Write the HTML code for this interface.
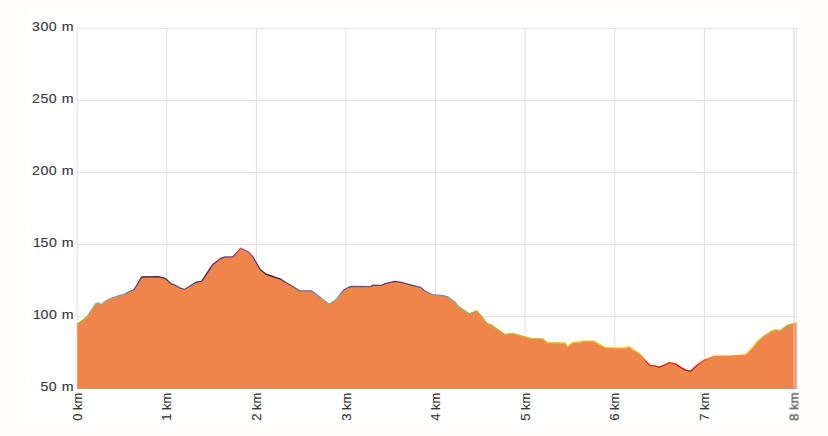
<!DOCTYPE html>
<html><head><meta charset="utf-8"><style>
html,body{margin:0;padding:0;width:828px;height:436px;overflow:hidden;background:#fefdfc;}
svg{display:block;filter:blur(0.6px);}
text{font-family:"Liberation Sans",sans-serif;font-size:13px;fill:#383838;stroke:#383838;stroke-width:0.15px;}
</style></head><body>
<svg width="828" height="436" viewBox="0 0 828 436">
<defs><linearGradient id="g" gradientUnits="userSpaceOnUse" x1="0" y1="28.3" x2="0" y2="388.6"><stop offset="0.6120" stop-color="#b05a9a"/><stop offset="0.6480" stop-color="#4a3a88"/><stop offset="0.6880" stop-color="#2e2850"/><stop offset="0.6960" stop-color="#363270"/><stop offset="0.7080" stop-color="#404888"/><stop offset="0.7240" stop-color="#4a68a0"/><stop offset="0.7360" stop-color="#6090b0"/><stop offset="0.7480" stop-color="#78a8a0"/><stop offset="0.7680" stop-color="#88b088"/><stop offset="0.7880" stop-color="#90b868"/><stop offset="0.8200" stop-color="#a0c050"/><stop offset="0.8600" stop-color="#b0c448"/><stop offset="0.8880" stop-color="#e4dc38"/><stop offset="0.9120" stop-color="#f08040"/><stop offset="0.9320" stop-color="#c83020"/><stop offset="0.9520" stop-color="#a01818"/></linearGradient></defs>
<rect x="26" y="10" width="774" height="414" fill="#ffffff"/>
<g stroke="#e2dfe0" stroke-width="1" fill="none"><line x1="77.2" y1="28.3" x2="797.0" y2="28.3"/><line x1="77.2" y1="100.4" x2="797.0" y2="100.4"/><line x1="77.2" y1="172.4" x2="797.0" y2="172.4"/><line x1="77.2" y1="244.5" x2="797.0" y2="244.5"/><line x1="77.2" y1="316.5" x2="797.0" y2="316.5"/><line x1="77.2" y1="388.6" x2="797.0" y2="388.6"/><line x1="77.2" y1="28.3" x2="77.2" y2="388.6"/><line x1="166.8" y1="28.3" x2="166.8" y2="388.6"/><line x1="256.4" y1="28.3" x2="256.4" y2="388.6"/><line x1="346.0" y1="28.3" x2="346.0" y2="388.6"/><line x1="435.6" y1="28.3" x2="435.6" y2="388.6"/><line x1="525.2" y1="28.3" x2="525.2" y2="388.6"/><line x1="614.8" y1="28.3" x2="614.8" y2="388.6"/><line x1="704.4" y1="28.3" x2="704.4" y2="388.6"/><line x1="794.0" y1="28.3" x2="794.0" y2="388.6"/></g>
<polygon points="77.2,389.0 77.2,324.0 83.2,319.9 87.8,315.7 92.3,308.8 96.0,303.3 98.8,302.9 101.0,304.7 104.3,302.0 110.7,298.3 115.3,296.9 120.0,295.3 124.0,294.6 127.3,292.6 134.2,289.4 141.6,277.0 158.5,276.7 165.0,278.3 171.4,283.8 175.0,285.2 180.0,288.0 184.6,289.3 195.6,282.5 201.8,281.1 212.1,265.3 220.4,258.4 225.0,257.0 233.0,256.8 240.5,248.1 248.4,251.9 253.0,257.0 260.2,269.5 265.8,274.0 275.4,277.5 280.9,279.2 285.0,282.0 291.9,286.0 299.9,290.9 311.4,290.9 318.3,295.7 329.2,304.3 336.6,299.2 340.0,294.4 343.7,290.2 348.3,287.5 351.9,286.3 370.3,286.6 373.0,285.2 381.3,285.4 385.9,283.3 395.0,281.3 400.0,282.2 408.8,284.3 420.4,287.3 424.6,290.9 433.5,295.0 441.8,295.3 447.3,296.6 455.0,302.1 458.3,306.3 469.3,313.9 476.8,310.9 482.3,317.3 487.1,323.5 491.3,324.9 505.0,334.5 512.3,333.3 518.8,335.2 530.7,338.4 542.6,338.8 547.2,342.5 565.0,343.0 567.8,346.6 572.8,342.5 580.2,342.0 583.4,341.1 593.9,341.1 598.5,343.8 605.0,347.1 615.0,347.9 624.2,347.9 628.8,346.5 631.5,348.3 640.0,354.5 645.0,360.0 649.5,365.3 654.4,365.8 659.0,367.2 662.7,365.8 669.1,362.6 675.5,363.9 681.0,367.6 686.5,370.3 690.6,371.2 697.5,364.8 704.0,360.2 709.4,358.4 714.0,356.1 730.0,356.1 746.2,354.8 751.4,348.6 757.6,341.3 763.8,336.2 771.0,331.5 775.1,330.0 780.3,330.5 784.4,327.4 788.6,324.8 797.2,322.7 797.2,389.0" fill="#f0854c"/>
<polyline points="77.2,324.0 83.2,319.9 87.8,315.7 92.3,308.8 96.0,303.3 98.8,302.9 101.0,304.7 104.3,302.0 110.7,298.3 115.3,296.9 120.0,295.3 124.0,294.6 127.3,292.6 134.2,289.4 141.6,277.0 158.5,276.7 165.0,278.3 171.4,283.8 175.0,285.2 180.0,288.0 184.6,289.3 195.6,282.5 201.8,281.1 212.1,265.3 220.4,258.4 225.0,257.0 233.0,256.8 240.5,248.1 248.4,251.9 253.0,257.0 260.2,269.5 265.8,274.0 275.4,277.5 280.9,279.2 285.0,282.0 291.9,286.0 299.9,290.9 311.4,290.9 318.3,295.7 329.2,304.3 336.6,299.2 340.0,294.4 343.7,290.2 348.3,287.5 351.9,286.3 370.3,286.6 373.0,285.2 381.3,285.4 385.9,283.3 395.0,281.3 400.0,282.2 408.8,284.3 420.4,287.3 424.6,290.9 433.5,295.0 441.8,295.3 447.3,296.6 455.0,302.1 458.3,306.3 469.3,313.9 476.8,310.9 482.3,317.3 487.1,323.5 491.3,324.9 505.0,334.5 512.3,333.3 518.8,335.2 530.7,338.4 542.6,338.8 547.2,342.5 565.0,343.0 567.8,346.6 572.8,342.5 580.2,342.0 583.4,341.1 593.9,341.1 598.5,343.8 605.0,347.1 615.0,347.9 624.2,347.9 628.8,346.5 631.5,348.3 640.0,354.5 645.0,360.0 649.5,365.3 654.4,365.8 659.0,367.2 662.7,365.8 669.1,362.6 675.5,363.9 681.0,367.6 686.5,370.3 690.6,371.2 697.5,364.8 704.0,360.2 709.4,358.4 714.0,356.1 730.0,356.1 746.2,354.8 751.4,348.6 757.6,341.3 763.8,336.2 771.0,331.5 775.1,330.0 780.3,330.5 784.4,327.4 788.6,324.8 797.2,322.7" fill="none" stroke="url(#g)" stroke-width="1.35" stroke-linejoin="round"/>
<rect x="794" y="28.3" width="2.5" height="360.3" fill="rgba(255,255,255,0.12)"/><g stroke="rgba(222,222,222,0.6)" stroke-width="1.2"><line x1="794" y1="28.3" x2="794" y2="388.6"/><line x1="796.5" y1="28.3" x2="796.5" y2="388.6"/></g>
<g><text transform="translate(74.2,31.1) scale(1.135,1)" text-anchor="end" style="font-size:12.5px;letter-spacing:0.5px">300 m</text><text transform="translate(74.2,103.2) scale(1.135,1)" text-anchor="end" style="font-size:12.5px;letter-spacing:0.5px">250 m</text><text transform="translate(74.2,175.2) scale(1.135,1)" text-anchor="end" style="font-size:12.5px;letter-spacing:0.5px">200 m</text><text transform="translate(74.2,247.3) scale(1.135,1)" text-anchor="end" style="font-size:12.5px;letter-spacing:0.5px">1<tspan dx="-1.0">50 m</tspan></text><text transform="translate(74.2,319.3) scale(1.135,1)" text-anchor="end" style="font-size:12.5px;letter-spacing:0.5px">1<tspan dx="-1.0">00 m</tspan></text><text transform="translate(74.2,391.4) scale(1.135,1)" text-anchor="end" style="font-size:12.5px;letter-spacing:0.5px">50 m</text></g>
<g><text transform="translate(81.7,392.6) rotate(-90) scale(1.0,1)" text-anchor="end">0 km</text><text transform="translate(171.3,392.6) rotate(-90) scale(1.0,1)" text-anchor="end">1 km</text><text transform="translate(260.9,392.6) rotate(-90) scale(1.0,1)" text-anchor="end">2 km</text><text transform="translate(350.5,392.6) rotate(-90) scale(1.0,1)" text-anchor="end">3 km</text><text transform="translate(440.1,392.6) rotate(-90) scale(1.0,1)" text-anchor="end">4 km</text><text transform="translate(529.7,392.6) rotate(-90) scale(1.0,1)" text-anchor="end">5 km</text><text transform="translate(619.3,392.6) rotate(-90) scale(1.0,1)" text-anchor="end">6 km</text><text transform="translate(708.9,392.6) rotate(-90) scale(1.0,1)" text-anchor="end">7 km</text><text transform="translate(798.5,392.6) rotate(-90) scale(1.0,1)" text-anchor="end">8 km</text></g>
</svg>
</body></html>
